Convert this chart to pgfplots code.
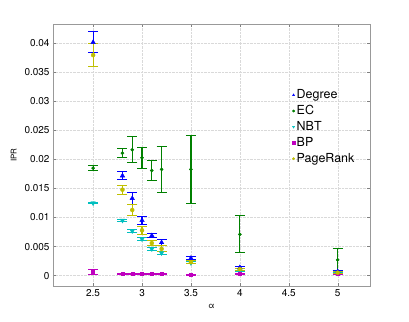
\documentclass[border=0pt]{standalone}
\usepackage{fontspec}
\setmainfont{TeX Gyre Heros}
\usepackage{pgfplots}
\pgfplotsset{compat=1.18}
\usepackage{pgfplotstable}

\definecolor{cdeg}{rgb}{0,0,1}
\definecolor{cec}{rgb}{0,0.5,0}
\definecolor{cnbt}{rgb}{0,0.75,0.75}
\definecolor{cbp}{rgb}{0.75,0,0.75}
\definecolor{cpr}{rgb}{0.75,0.75,0}

% alpha  mean  err
\pgfplotstableread{
x    y       e
2.5  0.0402  0.0018
2.8  0.0172  0.0007
2.9  0.0133  0.0010
3.0  0.0095  0.00066
3.1  0.0069  0.0004
3.2  0.0057  0.0006
3.5  0.0030  0.0003
4.0  0.0014  0.0002
5.0  0.0007  0.0002
}\degree
\pgfplotstableread{
x    y       e
2.5  0.0185  0.0004
2.8  0.0211  0.00075
2.9  0.0217  0.0022
3.0  0.0203  0.0018
3.1  0.0181  0.0018
3.2  0.0183  0.0039
3.5  0.0183  0.0058
4.0  0.0071  0.0032
5.0  0.0027  0.0020
}\ec
\pgfplotstableread{
x    y       e
2.5  0.0125  0.0001
2.8  0.0095  0.0002
2.9  0.0077  0.0002
3.0  0.0063  0.0003
3.1  0.0046  0.0003
3.2  0.0039  0.0002
3.5  0.0022  0.0002
4.0  0.0008  0.0001
5.0  0.0004  0.0001
}\nbt
\pgfplotstableread{
x    y       e
2.5  0.0006  0.0005
2.8  0.00026 0.0001
2.9  0.00026 0.0001
3.0  0.00026 0.0001
3.1  0.00026 0.0001
3.2  0.00026 0.0001
3.5  0.0001  0.0001
4.0  0.0003  0.0001
5.0  0.0003  0.0001
}\bp
\pgfplotstableread{
x    y       e
2.5  0.0380  0.0020
2.8  0.0148  0.0008
2.9  0.0113  0.0010
3.0  0.0078  0.00066
3.1  0.0056  0.0005
3.2  0.0046  0.0005
3.5  0.0023  0.0003
4.0  0.0011  0.0002
5.0  0.0005  0.0002
}\pagerank

\pgfplotsset{
  ebar/.style={only marks, color=#1, forget plot,
    error bars/.cd, y dir=both, y explicit,
      error bar style={color=#1, line width=1.1pt, solid},
      error mark=-,
      error mark options={color=#1, line width=1pt, mark size=5bp, rotate=90, solid},
    /pgfplots/.cd},
  lgd/.style={only marks, color=#1, mark size=1.2bp},
}

\begin{document}
\begin{tikzpicture}
\begin{axis}[
  scale only axis, width=317bp, height=262bp,
  xmin=2.09, xmax=5.33, ymin=-0.0018, ymax=0.04336,
  xtick={2.5,3,3.5,4,4.5,5},
  ytick={0,0.005,0.01,0.015,0.02,0.025,0.03,0.035,0.04},
  scaled y ticks=false,
  yticklabel style={/pgf/number format/fixed, /pgf/number format/precision=3},
  /pgf/number format/assume math mode=true,
  ticklabel style={font=\fontsize{10}{12}\selectfont},
  tick align=inside, major tick length=3bp,
  tick style={gray, line width=0.4pt},
  axis line style={gray!80, line width=0.8pt},
  grid=major, grid style={densely dotted, gray!30, line width=0.4pt},
  xlabel={α}, ylabel={IPR},
  label style={font=\fontsize{8}{9}\selectfont},
  xlabel style={yshift=-1bp}, ylabel style={yshift=1bp},
  legend style={draw=none, fill=none, at={(0.745,0.765)}, anchor=north west,
    font=\fontsize{12.5}{14}\selectfont, row sep=1.3bp,
    /tikz/every even column/.append style={column sep=3bp}},
  legend cell align=left,
  legend image code/.code={\path[#1] plot coordinates {(0.15cm,0cm)};},
]
\addplot[ebar=cdeg, mark=triangle*, mark size=2.6bp]
  table[x=x, y=y, y error=e] {\degree};
\addplot[ebar=cec, mark=*, mark size=1.6bp]
  table[x=x, y=y, y error=e] {\ec};
\addplot[ebar=cnbt, mark=triangle*, mark options={rotate=180}, mark size=2.6bp]
  table[x=x, y=y, y error=e] {\nbt};
\addplot[ebar=cbp, mark=square*, mark size=1.5bp]
  table[x=x, y=y, y error=e] {\bp};
\addplot[ebar=cpr, mark=*, mark size=2bp]
  table[x=x, y=y, y error=e] {\pagerank};
\addlegendimage{lgd=cdeg, mark=triangle*}
\addlegendentry{Degree}
\addlegendimage{lgd=cec, mark=*}
\addlegendentry{EC}
\addlegendimage{lgd=cnbt, mark=triangle*, mark options={rotate=180}}
\addlegendentry{NBT}
\addlegendimage{lgd=cbp, mark=square*}
\addlegendentry{BP}
\addlegendimage{lgd=cpr, mark=*}
\addlegendentry{PageRank}
\end{axis}
\path ([shift={(-53bp,-36bp)}]current axis.south west)
  rectangle ([shift={(39bp,24bp)}]current axis.north east);
\end{tikzpicture}
\end{document}
